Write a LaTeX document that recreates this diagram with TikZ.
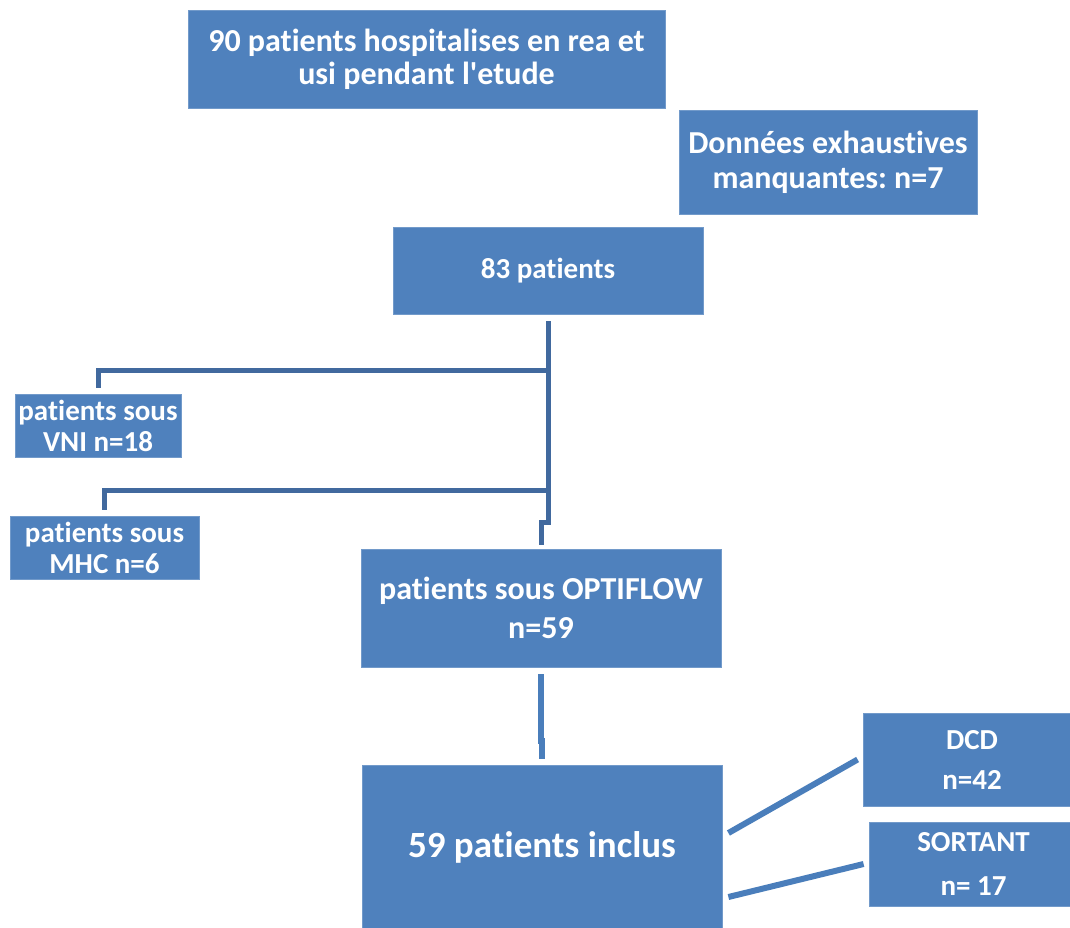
\documentclass[tikz,border=0pt]{standalone}
\usepackage{fontspec}
\setmainfont[Ligatures=NoCommon]{Carlito}
\frenchspacing
\definecolor{boxblue}{RGB}{79,129,189}
\definecolor{linkdark}{RGB}{65,105,158}
\definecolor{linklight}{RGB}{74,126,187}
\begin{document}
\begin{tikzpicture}[x=1pt,y=-1pt]
	\tikzstyle{box}=[rectangle,fill=boxblue,draw=boxblue!80!white,line width=0.8pt,text=white,align=center,inner sep=0pt]
	\tikzstyle{link}=[draw=linkdark,line width=5pt]
	\tikzstyle{outlink}=[draw=linklight,line width=6pt]
	\useasboundingbox (0,0) rectangle (1070,928);
	\begin{scope}
		\node [box,minimum width=477pt,minimum height=98pt,font=\bfseries\fontsize{32}{33}\selectfont] (total) at (426.5,59) {90 patients hospitalises en rea et\\usi pendant l\textquotesingle etude};
		\node [box,minimum width=298pt,minimum height=104pt,font=\bfseries\fontsize{32}{35}\selectfont] (missing) at (828,162) {Données exhaustives\\manquantes: n=7};
		\node [box,minimum width=310pt,minimum height=87pt,font=\bfseries\fontsize{29}{31}\selectfont] (ctr) at (548,270.5) {83 patients};
		\node [box,minimum width=166pt,minimum height=63pt,font=\bfseries\fontsize{29}{31}\selectfont] (vni) at (98,425.5) {patients sous\\VNI n=18};
		\node [box,minimum width=189pt,minimum height=63pt,font=\bfseries\fontsize{29}{31}\selectfont] (mhc) at (104.5,547.5) {patients sous\\MHC n=6};
		\node [box,minimum width=360pt,minimum height=118pt,font=\bfseries\fontsize{32}{39}\selectfont] (opti) at (541,608) {patients sous OPTIFLOW\\n=59};
		\node [box,minimum width=360pt,minimum height=164pt,font=\bfseries\fontsize{37}{40}\selectfont] (incl) at (542,847) {59 patients inclus};
		\node [box,minimum width=218pt,minimum height=93pt,font=\bfseries\fontsize{29}{40}\selectfont] (dcd) at (972,759.5) {DCD\\n=42};
		\node [box,minimum width=209pt,minimum height=84pt,font=\bfseries\fontsize{29}{44}\selectfont] (sort) at (973.5,864) {SORTANT\\n= 17};
		\coordinate (jvni) at (548,370);
		\coordinate (jmhc) at (548,490);
		\path[link] ([yshift=-7pt]ctr.south) |- ([yshift=26pt]opti.north) -- ([yshift=4pt]opti.north);
		\path[link] (jvni) -| ([yshift=6pt]vni.north);
		\path[link] (jmhc) -| ([yshift=6pt]mhc.north);
		\path[outlink] ([yshift=-7pt]opti.south) |- ([yshift=24pt]incl.north) -- ([yshift=6pt]incl.north);
		\path[outlink] ([xshift=6pt,yshift=14pt]incl.east) -- ([xshift=-5pt]dcd.west);
		\path[outlink] ([xshift=6pt,yshift=-50pt]incl.east) -- ([xshift=-5pt]sort.west);
	\end{scope}
\end{tikzpicture}
\end{document}
